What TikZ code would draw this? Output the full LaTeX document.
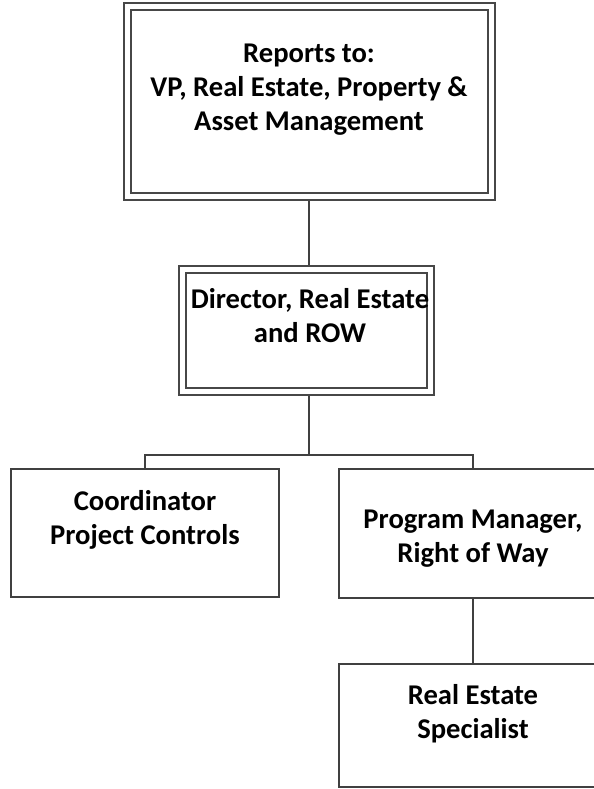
\documentclass[tikz,border=0pt]{standalone}
\usepackage{fontspec}
\setmainfont{Carlito}
\usetikzlibrary{positioning}

\begin{document}
\begin{tikzpicture}[x=0.5pt,y=-0.5pt,
    dblbox/.style={draw=black!72,line width=1pt,double=white,double distance=2.5pt,
      inner sep=0pt,outer sep=2.25pt},
    onebox/.style={draw=black!75,line width=0.8pt,inner sep=0pt,outer sep=0.4pt},
    lbl/.style={align=center,inner sep=0pt,anchor=north,
      font=\bfseries\fontsize{14.3}{16.8}\selectfont},
    conn/.style={draw=black!75,line width=0.8pt}]
  \clip (0,0) rectangle (594,789);
  % boxes
  \node[dblbox,minimum width=182pt,minimum height=95pt] (top) at (309,101.5) {};
  \node[dblbox,minimum width=124pt,minimum height=61pt] (dir) at (306,330) {};
  \node[onebox,minimum width=134pt,minimum height=64pt] (coord) at (145,533) {};
  \node[onebox,minimum width=134pt,minimum height=64.5pt] (pm) at (473,533.5) {};
  \node[onebox,minimum width=134pt,minimum height=61.5pt] (res) at (473,725.5) {};
  % texts
  \node[lbl] (toptxt) at (309,44) {Reports to:\\VP, Real Estate, Property \&\\Asset Management};
  \node[lbl] (dirtxt) at (310,288) {Director, Real Estate\\and ROW};
  \node[lbl] (coordtxt) at (145,490) {Coordinator\\Project Controls};
  \node[lbl] (pmtxt) at (473,510) {Program Manager,\\Right of Way};
  \node[lbl] (restxt) at (473,684) {Real Estate\\Specialist};
  % connectors
  \coordinate (bar) at (309,455);
  \draw[conn] (top.south) -- (top.south |- dir.north);
  \draw[conn] (bar |- dir.south) -- (bar);
  \draw[conn] (coord.north) |- (bar) -| (pm.north);
  \draw[conn] (pm.south) -- (res.north);
\end{tikzpicture}
\end{document}
